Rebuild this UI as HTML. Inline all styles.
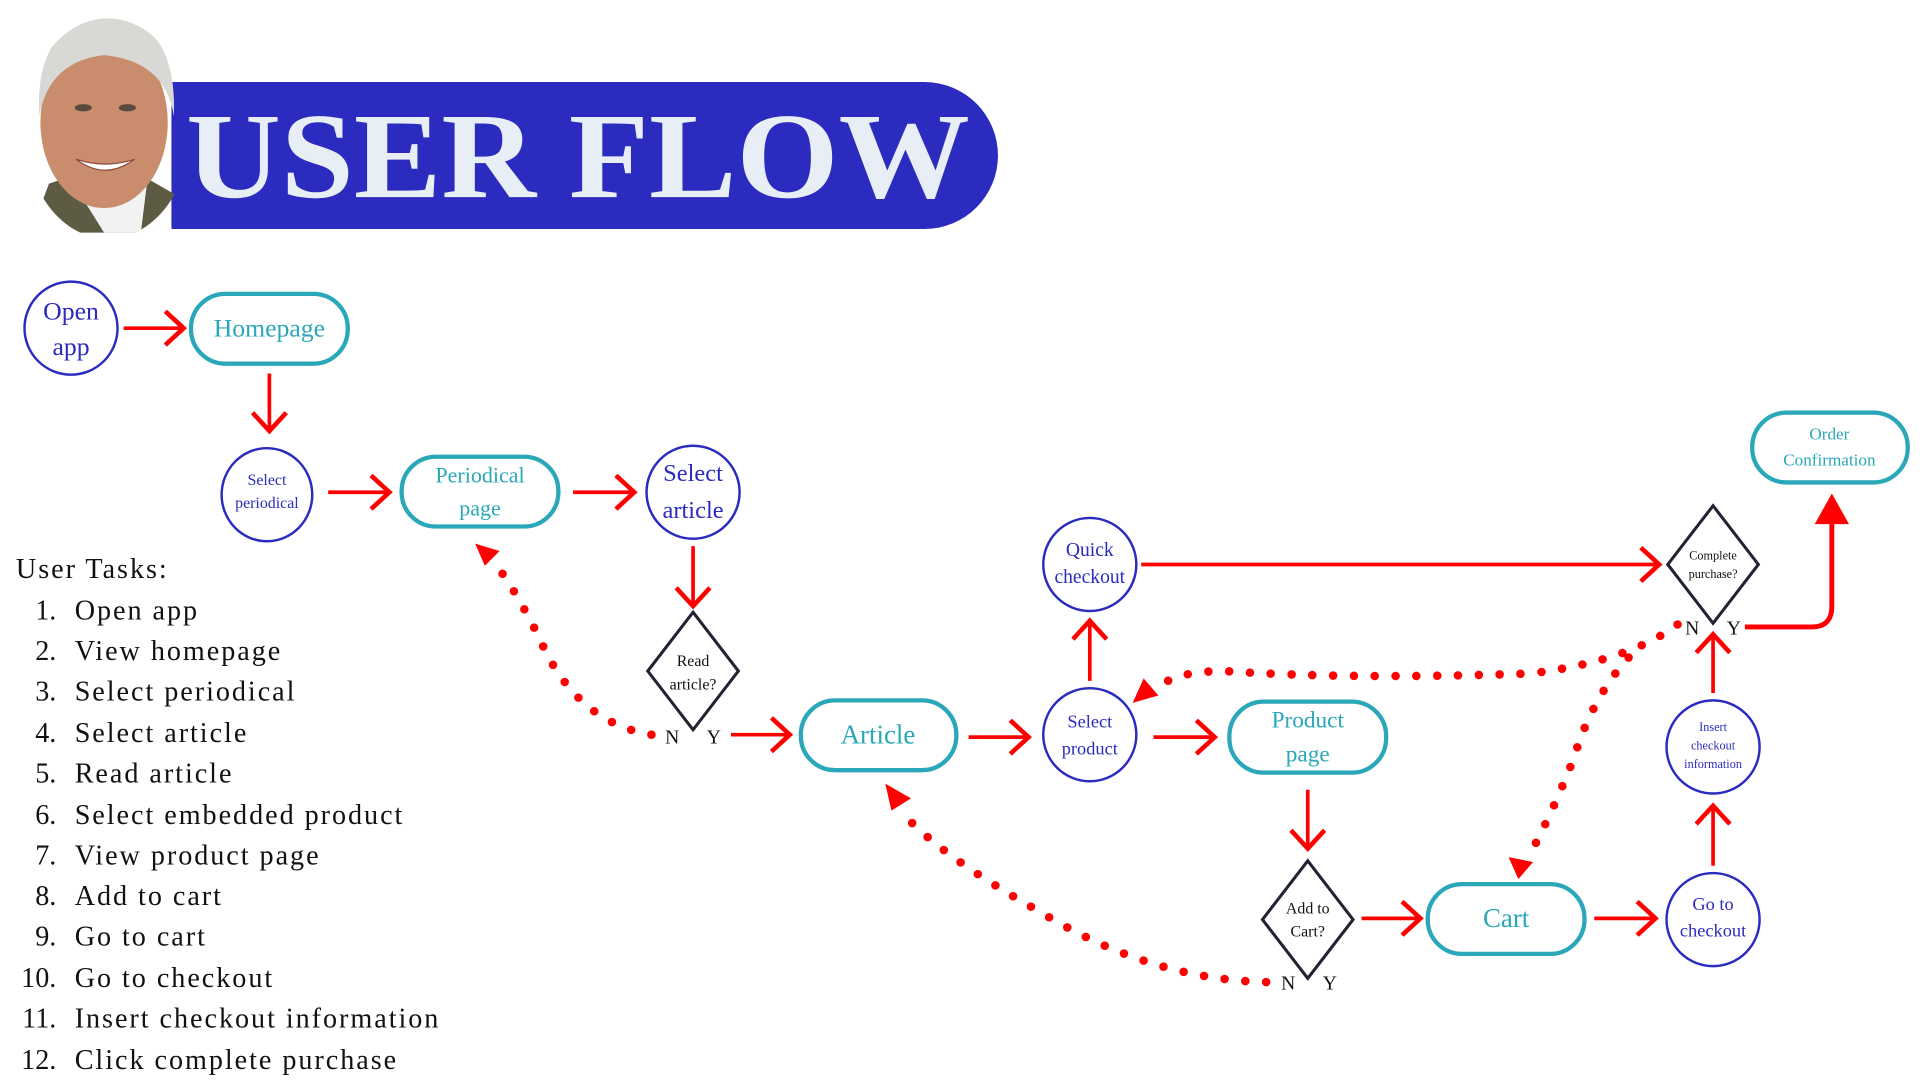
<!DOCTYPE html>
<html><head><meta charset="utf-8"><style>
html,body{margin:0;padding:0;background:#fff;}
svg{display:block;}
text{font-family:"Liberation Serif",serif;}
</style></head><body>
<svg width="1920" height="1080" viewBox="0 0 1568 882" xmlns="http://www.w3.org/2000/svg">
<defs>
<marker id="v" markerUnits="userSpaceOnUse" markerWidth="30" markerHeight="30" refX="18" refY="12" orient="auto" viewBox="0 0 24 24">
<path d="M6 1 L18 12 L6 23" fill="none" stroke="#f00" stroke-width="3"/>
</marker>
<clipPath id="face"><ellipse cx="88" cy="105" rx="68" ry="90"/></clipPath>
</defs>

<!-- banner -->
<path d="M140 67 H755 A60 60 0 0 1 755 187 H140 Z" fill="#2b2bbf"/>
<text x="152" y="161" font-size="100" font-weight="bold" fill="#e8eef6" textLength="640" lengthAdjust="spacingAndGlyphs">USER FLOW</text>

<!-- portrait approximation -->
<g clip-path="url(#face)">
<path d="M25 190 L40 150 L70 140 L110 140 L145 160 L160 190 Z" fill="#5e5b45"/>
<path d="M60 150 L85 190 L115 190 L120 150 Z" fill="#f2f2f2"/>
<ellipse cx="85" cy="100" rx="52" ry="70" fill="#c98c6c"/>
<path d="M32 95 Q28 20 85 12 Q145 15 142 95 Q135 50 85 45 Q40 50 32 95 Z" fill="#d8d8d4"/>
<ellipse cx="68" cy="88" rx="7" ry="3" fill="#5a4a40"/>
<ellipse cx="104" cy="88" rx="7" ry="3" fill="#5a4a40"/>
<path d="M62 130 Q86 148 110 130 Q86 138 62 130 Z" fill="#fff" stroke="#8a4a3a" stroke-width="1"/>
</g>

<!-- connectors solid -->
<g stroke="#f00" stroke-width="3" fill="none" marker-end="url(#v)">
<line x1="101" y1="268" x2="150" y2="268"/>
<line x1="220" y1="305" x2="220" y2="352"/>
<line x1="268" y1="402" x2="318" y2="402"/>
<line x1="468" y1="402" x2="518" y2="402"/>
<line x1="566" y1="446" x2="566" y2="495"/>
<line x1="597" y1="600" x2="645" y2="600"/>
<line x1="791" y1="602" x2="840" y2="602"/>
<line x1="890" y1="556" x2="890" y2="507"/>
<line x1="932" y1="461" x2="1355" y2="461"/>
<line x1="942" y1="602" x2="992" y2="602"/>
<line x1="1068" y1="645" x2="1068" y2="693"/>
<line x1="1112" y1="750" x2="1160" y2="750"/>
<line x1="1302" y1="750" x2="1352" y2="750"/>
<line x1="1399" y1="707" x2="1399" y2="658"/>
<line x1="1399" y1="566" x2="1399" y2="518"/>
</g>
<path d="M1425 512 H1480 Q1496 512 1496 495 V425" stroke="#f00" stroke-width="4" fill="none"/>
<path d="M1482 428 L1496 403 L1510 428 Z" fill="#f00"/>

<!-- dotted -->
<g stroke="#f00" stroke-width="7" stroke-linecap="round" fill="none" stroke-dasharray="0 17">
<path d="M532 600 Q470 590 440 520 Q420 480 404 460"/>
<path d="M1034 802 Q940 800 850 745 Q770 700 738 665"/>
<path d="M1370 510 Q1330 540 1250 550 Q1100 555 1000 548 Q960 548 945 562"/>
<path d="M1330 537 Q1300 570 1285 620 Q1265 670 1248 700"/>
</g>
<path d="M388 444 L408 450 L396 462 Z" fill="#f00"/>
<path d="M723 640 L744 652 L728 662 Z" fill="#f00"/>
<path d="M925 574 L934 554 L946 568 Z" fill="#f00"/>
<path d="M1232 700 L1252 704 L1240 718 Z" fill="#f00"/>

<!-- circles -->
<g fill="#fff" stroke="#2b2bbf" stroke-width="2">
<ellipse cx="58" cy="268" rx="38" ry="38"/>
<ellipse cx="218" cy="404" rx="37" ry="38"/>
<ellipse cx="566" cy="402" rx="38" ry="38"/>
<ellipse cx="890" cy="600" rx="38" ry="38"/>
<ellipse cx="890" cy="461" rx="38" ry="38"/>
<ellipse cx="1399" cy="610" rx="38" ry="38"/>
<ellipse cx="1399" cy="751" rx="38" ry="38"/>
</g>
<!-- pills -->
<g fill="#fff" stroke="#2aa7b8" stroke-width="3.5">
<rect x="156" y="240" width="128" height="57" rx="28"/>
<rect x="328" y="373" width="128" height="57" rx="28"/>
<rect x="654" y="572" width="127" height="57" rx="28"/>
<rect x="1004" y="573" width="128" height="58" rx="28"/>
<rect x="1166" y="722" width="128" height="57" rx="28"/>
<rect x="1431" y="337" width="127" height="57" rx="28"/>
</g>
<!-- diamonds -->
<g fill="#fff" stroke="#222233" stroke-width="2.5">
<path d="M566 500 L603 548 L566 596 L529 548 Z"/>
<path d="M1068 703 L1105 751 L1068 799 L1031 751 Z"/>
<path d="M1399 413 L1436 461 L1399 509 L1362 461 Z"/>
</g>

<!-- node text -->
<g fill="#2b2bbf" text-anchor="middle">
<text x="58" y="261" font-size="21">Open</text>
<text x="58" y="290" font-size="21">app</text>
<text x="218" y="396" font-size="13">Select</text>
<text x="218" y="415" font-size="13">periodical</text>
<text x="566" y="393" font-size="20">Select</text>
<text x="566" y="423" font-size="20">article</text>
<text x="890" y="594" font-size="15">Select</text>
<text x="890" y="616" font-size="15">product</text>
<text x="890" y="454" font-size="16">Quick</text>
<text x="890" y="476" font-size="16">checkout</text>
<text x="1399" y="597" font-size="10">Insert</text>
<text x="1399" y="612" font-size="10">checkout</text>
<text x="1399" y="627" font-size="10">information</text>
<text x="1399" y="743" font-size="15">Go to</text>
<text x="1399" y="765" font-size="15">checkout</text>
</g>
<g fill="#2aa7b8" text-anchor="middle">
<text x="220" y="275" font-size="21">Homepage</text>
<text x="392" y="394" font-size="18">Periodical</text>
<text x="392" y="421" font-size="18">page</text>
<text x="717" y="607" font-size="22">Article</text>
<text x="1068" y="594" font-size="19">Product</text>
<text x="1068" y="622" font-size="19">page</text>
<text x="1230" y="757" font-size="22">Cart</text>
<text x="1494" y="359" font-size="14">Order</text>
<text x="1494" y="380" font-size="14">Confirmation</text>
</g>
<g fill="#111" text-anchor="middle">
<text x="566" y="544" font-size="13">Read</text>
<text x="566" y="563" font-size="13">article?</text>
<text x="1068" y="746" font-size="13">Add to</text>
<text x="1068" y="765" font-size="13">Cart?</text>
<text x="1399" y="457" font-size="10">Complete</text>
<text x="1399" y="472" font-size="10">purchase?</text>
<text x="549" y="607" font-size="16">N</text>
<text x="583" y="607" font-size="16">Y</text>
<text x="1052" y="808" font-size="16">N</text>
<text x="1086" y="808" font-size="16">Y</text>
<text x="1382" y="518" font-size="16">N</text>
<text x="1416" y="518" font-size="16">Y</text>
</g>

<!-- user tasks -->
<g fill="#111" font-size="23" letter-spacing="1.6">
<text x="13" y="472">User Tasks:</text>
<g text-anchor="end" letter-spacing="0">
<text x="46" y="506">1.</text><text x="46" y="539">2.</text><text x="46" y="572">3.</text>
<text x="46" y="606">4.</text><text x="46" y="639">5.</text><text x="46" y="673">6.</text>
<text x="46" y="706">7.</text><text x="46" y="739">8.</text><text x="46" y="772">9.</text>
<text x="46" y="806">10.</text><text x="46" y="839">11.</text><text x="46" y="873">12.</text>
</g>
<text x="61" y="506">Open app</text>
<text x="61" y="539">View homepage</text>
<text x="61" y="572">Select periodical</text>
<text x="61" y="606">Select article</text>
<text x="61" y="639">Read article</text>
<text x="61" y="673">Select embedded product</text>
<text x="61" y="706">View product page</text>
<text x="61" y="739">Add to cart</text>
<text x="61" y="772">Go to cart</text>
<text x="61" y="806">Go to checkout</text>
<text x="61" y="839">Insert checkout information</text>
<text x="61" y="873">Click complete purchase</text>
</g>
</svg>
</body></html>
